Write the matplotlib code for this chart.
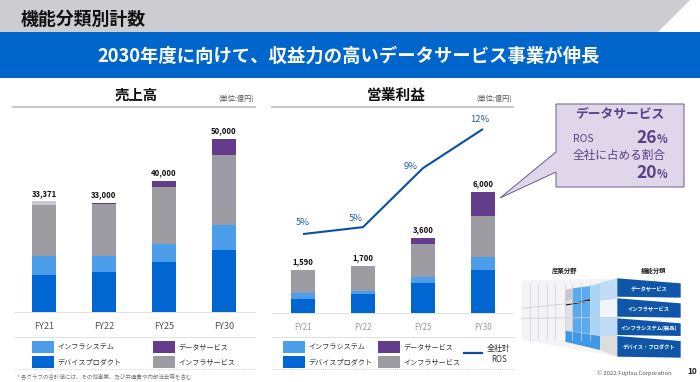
import matplotlib
matplotlib.use("Agg")
import matplotlib.pyplot as plt
from matplotlib.patches import Polygon, Rectangle
import numpy as np

plt.rcParams['font.family'] = ['Noto Sans CJK JP', 'DejaVu Sans']

W, H = 700, 382
years = ['FY21', 'FY22', 'FY25', 'FY30']

# Sales (billions of yen)
sales_device = [10580, 11540, 14330, 17880]
sales_system = [5670, 4710, 5380, 7120]
sales_service = [14710, 15000, 16440, 20380]
sales_data = [0, 190, 1730, 4620]
sales_other = [960, 0, 0, 0]
sales_labels = ['33,371', '33,000', '40,000', '50,000']

# Operating profit
op_device = [694, 959, 1471, 2132]
op_system = [281, 149, 331, 645]
op_service = [1157, 1240, 1636, 2050]
op_data = [0, 0, 281, 1174]
op_labels = ['1,590', '1,700', '3,600', '6,000']

ros = [5.15, 5.6, 9.45, 12.0]
ros_labels = ['5%', '5%', '9%', '12%']

C_DEV, C_SYS, C_SVC, C_DATA, C_OTH = '#0066D2', '#4C9EEA', '#9C9CA2', '#643C8C', '#C9C9D2'
C_LINE = '#0B4EA2'

fig = plt.figure(figsize=(W / 100, H / 100), dpi=100, facecolor='white')


def axes_px(x0, x1, ytop, ybot, **kw):
    return fig.add_axes([x0 / W, 1 - ybot / H, (x1 - x0) / W, (ybot - ytop) / H], **kw)


# ---------- overlay in pixel coordinates ----------
ov = axes_px(0, W, 0, H)
ov.set_xlim(0, W)
ov.set_ylim(H, 0)
ov.axis('off')

ov.add_patch(Polygon([(0, 0), (690, 0), (658, 32), (0, 32)], fc='#CDCDD1', ec='none'))
ov.add_patch(Rectangle((0, 32), W, 46, fc='#0066CC', ec='none'))
ov.text(21, 20, '機能分類別計数', fontsize=12.9, fontweight='bold', color='#111111', va='center')
ov.text(349, 56, '2030年度に向けて、収益力の高いデータサービス事業が伸長', fontsize=13.2,
        fontweight='bold', color='white', va='center', ha='center')

# section headers
ov.text(136, 96, '売上高', fontsize=10.4, fontweight='bold', ha='center', va='center', color='#111111')
ov.text(396, 95, '営業利益', fontsize=10.6, fontweight='bold', ha='center', va='center', color='#111111')
ov.text(236, 99, '(単位:億円)', fontsize=5.2, ha='center', va='center', color='#555555')
ov.text(494, 99, '(単位:億円)', fontsize=5.2, ha='center', va='center', color='#555555')
ov.plot([13, 255], [107, 107], color='#BDBDBD', lw=1.2)
ov.plot([272, 513], [107, 107], color='#BDBDBD', lw=1.2)

# legend separators
for x0, x1 in [(14, 255), (272, 515)]:
    ov.plot([x0, x1], [337, 337], color='#E2E2E2', lw=0.7)
    ov.plot([x0, x1], [369, 369], color='#D5D5D5', lw=0.7, ls=(0, (1, 1)))


def legend(x1, x2):
    rows = [(x1, 341, C_SYS, 'インフラシステム'), (x1, 356, C_DEV, 'デバイスプロダクト'),
            (x2, 341, C_DATA, 'データサービス'), (x2, 356, C_SVC, 'インフラサービス')]
    for x, y, c, t in rows:
        ov.add_patch(Rectangle((x, y), 22, 11.5, fc=c, ec='none'))
        ov.text(x + 25, y + 6, t, fontsize=5.1, va='center', color='#333333')


legend(32, 153)
legend(283, 378)
ov.plot([464, 482], [353, 353], color=C_LINE, lw=1.6)
ov.text(499, 349, '全社計', fontsize=5.8, ha='center', va='center', color='#333333')
ov.text(499, 360, 'ROS', fontsize=5.8, ha='center', va='center', color='#333333')
ov.text(17, 377, '* 各グラフの合計値には、その他事業、及び共通費や内部消去等を含む', fontsize=4,
        va='center', color='#777777')

# callout
C_BOX, C_EDGE, C_TXT = '#E0D6EA', '#6A5A8C', '#5A3F86'
ov.add_patch(Polygon([(556, 104), (684, 104), (684, 187), (556, 187), (556, 172), (500, 198), (556, 152)],
                     fc=C_BOX, ec=C_EDGE, lw=0.7))
ov.text(620, 115, 'データサービス', fontsize=9.2, fontweight='bold', ha='center', va='center', color=C_TXT)
ov.text(573, 139, 'ROS', fontsize=7.5, va='center', color=C_TXT)
ov.text(573, 155, '全社に占める割合', fontsize=8.4, va='center', color=C_TXT)
for y, t in [(138, '26'), (173, '20')]:
    ov.text(657, y, t, fontsize=12.5, fontweight='bold', ha='right', va='center', color=C_TXT)
    ov.text(657, y + 1.5, '%', fontsize=8, fontweight='bold', ha='left', va='center', color=C_TXT)


# ---------- thumbnail diagram (coords from the zoomed crop) ----------
def z(pts):
    return [(510 + a / 3, 260 + b / 3) for a, b in pts]


def poly(pts, c):
    ov.add_patch(Polygon(z(pts), fc=c, ec='none'))


poly([(35, 62), (322, 55), (322, 290), (35, 240)], '#F4F4F6')
poly([(165, 90), (187, 85), (187, 120), (165, 125)], '#C8C8CE')
poly([(165, 125), (187, 120), (187, 215), (165, 212)], '#E2E2E6')
poly([(187, 85), (240, 78), (240, 222), (187, 215)], '#5AAAF0')
poly([(240, 78), (270, 70), (270, 228), (240, 222)], '#A8D4F6')
poly([(270, 68), (322, 55), (322, 115), (270, 120)], '#BFDDF6')
poly([(270, 120), (322, 115), (322, 172), (270, 172)], '#F0F6FB')
poly([(270, 172), (322, 172), (322, 228), (270, 228)], '#BFDDF6')
poly([(270, 228), (322, 228), (322, 290), (270, 270)], '#DDDDDD')
poly([(165, 212), (270, 228), (270, 270), (165, 245)], '#3F97E8')
poly([(165, 134), (240, 118), (240, 124), (165, 137)], '#111111')
for a in (60, 85, 110, 135, 165, 187, 212, 240):
    ov.plot(*zip(*z([(a, 70), (a, 240)])), color='#D4D4D8', lw=0.5)
for (a0, b0), (a1, b1) in [((35, 145), (322, 115)), ((35, 175), (322, 172))]:
    ov.plot(*zip(*z([(a0, b0), (a1, b1)])), color='#CFCFD4', lw=0.6)
rows = [(55, 110, 'データサービス'), (115, 170, 'インフラサービス'),
        (175, 225, 'インフラシステム(製品)'), (228, 290, 'デバイス・プロダクト')]
for y0, y1, t in rows:
    poly([(322, y0), (512, y0 + 15), (512, y1 + 3), (322, y1)], '#0F55A8')
    ov.text(510 + 417 / 3, 260 + (y0 + y1) / 6 + 2, t, fontsize=3.8, fontweight='bold', color='white',
            ha='center', va='center')
ov.text(510 + 165 / 3, 270, '産業分野', fontsize=4.6, fontweight='bold', ha='center', va='center', color='#222222')
ov.text(510 + 430 / 3, 271, '機能分類', fontsize=4.6, fontweight='bold', ha='center', va='center', color='#222222')
ov.text(672, 373, '© 2022 Fujitsu Corporation', fontsize=4.3, ha='right', va='center', color='#555555')
ov.text(692, 372, '10', fontsize=6, fontweight='bold', ha='center', va='center', color='#222222')


# ---------- charts ----------
def stacked(ax, layers, labels, tick_color, tick_size):
    x = np.arange(len(years))
    bottom = np.zeros(len(years))
    for vals, col in layers:
        ax.bar(x, vals, width=0.4, bottom=bottom, color=col, linewidth=0)
        bottom = bottom + np.array(vals)
    for xi, top, lab in zip(x, bottom, labels):
        ax.annotate(lab, (xi, top), xytext=(0, 2.5), textcoords='offset points', ha='center', va='bottom',
                    fontsize=5.6, fontweight='bold', color='#111111')
    ax.set_xticks(x, years)
    ax.tick_params(axis='x', length=0, pad=7.5, labelsize=tick_size, labelcolor=tick_color)
    ax.set_yticks([])
    for s in ('top', 'left', 'right'):
        ax.spines[s].set_visible(False)
    ax.spines['bottom'].set_color('#E2E2E2')
    ax.spines['bottom'].set_linewidth(0.7)
    ax.patch.set_alpha(0)


ax1 = axes_px(14, 255, 110, 312)
ax1.set_xlim(-0.5, 3.517)
ax1.set_ylim(0, (312 - 110) * 50000 / 173.3)
stacked(ax1, [(sales_device, C_DEV), (sales_system, C_SYS), (sales_service, C_SVC),
              (sales_data, C_DATA), (sales_other, C_OTH)], sales_labels, '#555555', 6.6)

ax2 = axes_px(272, 513, 110, 313)
ax2.set_xlim(-0.517, 3.5)
ax2.set_ylim(0, (313 - 110) * 6000 / 121)
stacked(ax2, [(op_device, C_DEV), (op_system, C_SYS), (op_service, C_SVC), (op_data, C_DATA)],
        op_labels, '#9A9A9A', 5.8)

ax3 = ax2.twinx()
ax3.set_ylim(0, (313 - 110) * 12 / 184)
ax3.plot(range(4), ros, color=C_LINE, lw=1.5, solid_capstyle='butt')
ax3.set_yticks([])
for s in ax3.spines.values():
    s.set_visible(False)
offsets = [(0, 8), (-5, 6.5), (-9, 1), (-2, 6.5)]
for i, (v, lab, off) in enumerate(zip(ros, ros_labels, offsets)):
    ax3.annotate(lab, (i, v), xytext=off, textcoords='offset points', ha='center', va='center',
                 fontsize=6.8, color='#1F5FA8')

fig.savefig('out.png', dpi=100)
